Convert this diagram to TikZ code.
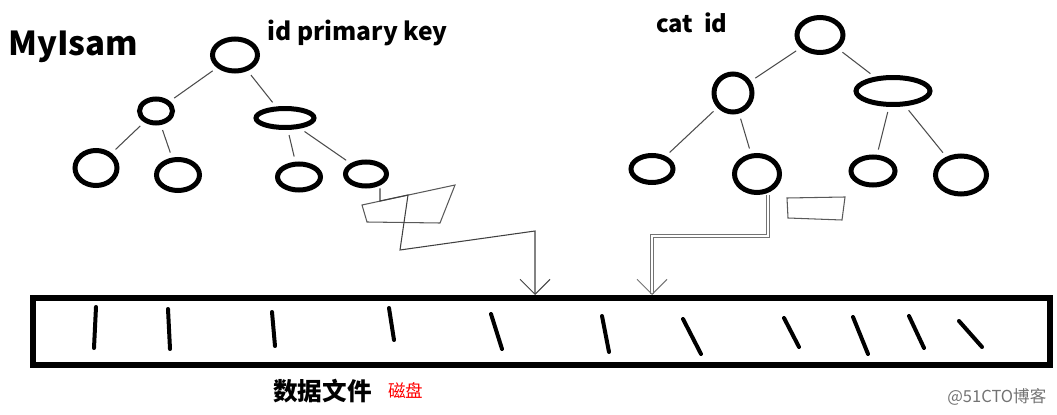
\documentclass[tikz,border=0pt]{standalone}
\usepackage{fontspec}
\newfontfamily\cjk{Noto Sans CJK SC}
\usetikzlibrary{shapes.geometric,arrows.meta}

\tikzset{
  key/.style={ellipse,draw,line width=0.1cm,inner sep=0pt},
  branch/.style={draw=black!70,line width=0.6pt,shorten <=3pt,shorten >=3pt},
  link/.style={draw=black!75,line width=0.6pt,-{Straight Barb[length=0.3cm,width=0.6cm]}},
  scribble/.style={draw=black!65,line width=0.6pt},
  record/.style={line width=0.08cm,line cap=round},
  label/.style={font=\cjk\bfseries,inner sep=0pt}
}

\begin{document}
\begin{tikzpicture}[x=0.02cm,y=-0.02cm]
  \useasboundingbox (0,0) rectangle (1057,415);

  % titles
  \node[label,anchor=base west,font=\cjk\bfseries\fontsize{18.8}{20}\selectfont] (title) at (8,56) {MyIsam};
  \node[label,anchor=base west,font=\cjk\bfseries\fontsize{14}{16}\selectfont] (pklabel) at (267,41) {id primary key};
  \node[label,anchor=base west,font=\cjk\bfseries\fontsize{13.5}{15}\selectfont] (catlabel) at (656,33) {cat\ \ id};

  % primary key tree
  \node[key,minimum width=0.90cm,minimum height=0.64cm] (pkroot) at (235,55) {};
  \node[key,minimum width=0.66cm,minimum height=0.48cm] (pka) at (156,111) {};
  \node[key,minimum width=1.16cm,minimum height=0.38cm] (pkb) at (285,118) {};
  \node[key,minimum width=0.84cm,minimum height=0.70cm] (pk1) at (96,168) {};
  \node[key,minimum width=0.86cm,minimum height=0.62cm] (pk2) at (178,175) {};
  \node[key,minimum width=0.86cm,minimum height=0.52cm] (pk3) at (299,177) {};
  \node[key,minimum width=0.82cm,minimum height=0.48cm] (pk4) at (366,174) {};

  \path[branch] (pkroot) edge (pka)
                         edge (pkb)
                (pka)    edge (pk1)
                         edge (pk2)
                (pkb)    edge (pk3)
                         edge (pk4);

  % cat_id tree
  \node[key,minimum width=0.92cm,minimum height=0.70cm] (catroot) at (820,35) {};
  \node[key,minimum width=0.76cm,minimum height=0.76cm] (cata) at (733,93) {};
  \node[key,minimum width=1.48cm,minimum height=0.54cm] (catb) at (893,91) {};
  \node[key,minimum width=0.84cm,minimum height=0.54cm] (cat1) at (652,169) {};
  \node[key,minimum width=0.90cm,minimum height=0.74cm] (cat2) at (757,174) {};
  \node[key,minimum width=0.88cm,minimum height=0.56cm] (cat3) at (873,171) {};
  \node[key,minimum width=1.02cm,minimum height=0.76cm] (cat4) at (961,175) {};

  \path[branch] (catroot) edge (cata)
                          edge (catb)
                (cata)    edge (cat1)
                          edge (cat2)
                (catb)    edge (cat3)
                          edge (cat4);

  % data file
  \node[draw,line width=0.12cm,minimum width=20.34cm,minimum height=1.34cm,inner sep=0pt] (datafile) at (541.5,331.5) {};
  \foreach \xa/\ya/\xb/\yb in {96/307/94/348, 168/309/170/349, 272/312/275/346, 389/308/394/340,
      491/314/502/349, 602/316/609/352, 683/319/701/354, 784/318/799/347,
      853/317/868/354, 909/316/924/348, 959/321/982/347}
    \draw[record] (\xa,\ya) -- (\xb,\yb);

  \node[label,anchor=west,font=\cjk\bfseries\fontsize{14}{16}\selectfont] (filelabel) at (273,391) {数据文件};
  \node[anchor=west,inner sep=0pt,text=red,font=\cjk\fontsize{10}{12}\selectfont] (disklabel) at (388,391) {磁盘};
  \node[anchor=west,inner sep=0pt,text=black!55,font=\cjk\fontsize{9.4}{11}\selectfont] (mark) at (947,397) {@51CTO博客};

  % lookups from the leaves down to the data file
  \draw[scribble] (362,205) -- (455,185) -- (440,223) -- (367,222) -- cycle;
  \draw[scribble] (787,198) -- (845,197) -- (842,220) -- (788,218) -- cycle;

  \coordinate (dropL) at (535,231);
  \coordinate (dropR) at (652,236);
  \draw[link] ([xshift=0.28cm]pk4.south) -- (380,201) -- (408,195) -- (400,250) -- (dropL) -- (dropL |- datafile.north);
  \draw[link,double=white,double distance=0.04cm,draw=black!55] ([xshift=0.22cm]cat2.south) |- (dropR) -- (dropR |- datafile.north);
\end{tikzpicture}
\end{document}
